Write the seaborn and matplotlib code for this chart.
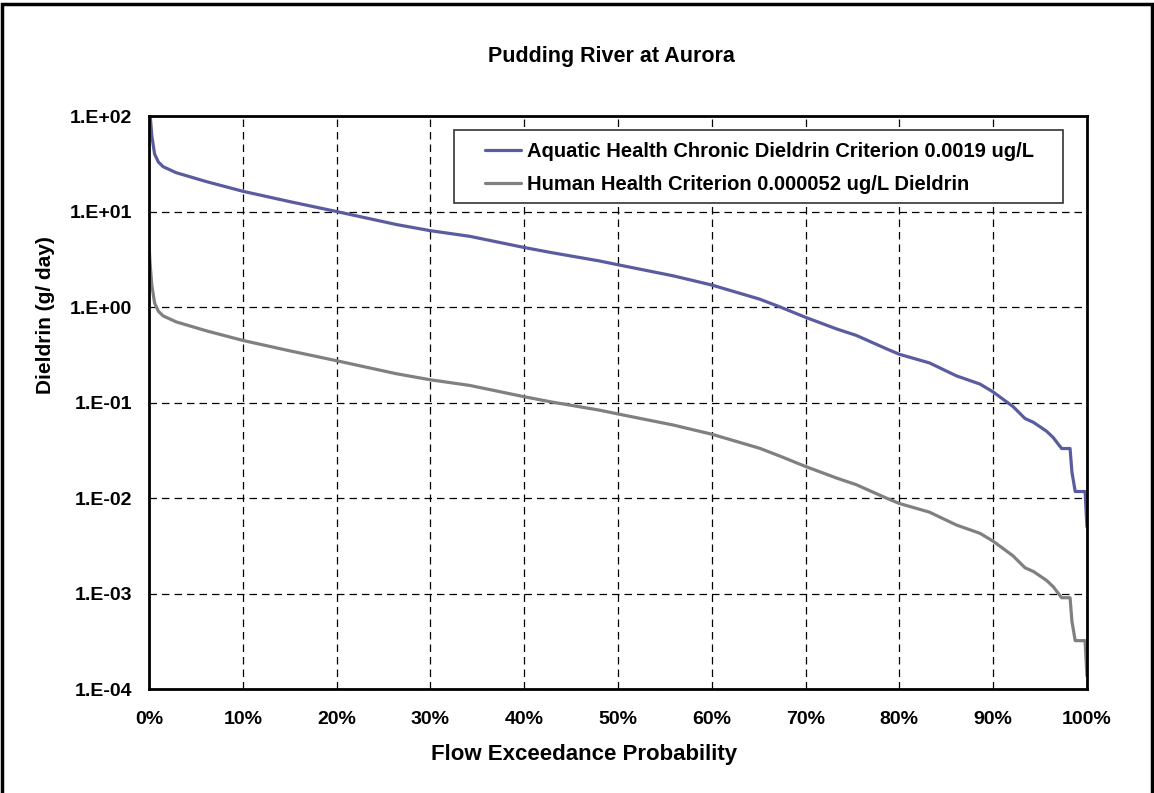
import numpy as np
import pandas as pd
import matplotlib
matplotlib.use("Agg")
import matplotlib.pyplot as plt
from matplotlib.patches import Rectangle
import seaborn as sns

# Load duration curve values (x = flow exceedance, %)
exceedance = [0.0, 0.1, 0.3, 0.6, 1.0, 1.5, 2.9, 6.1, 10, 15, 20, 26.4, 30, 34.2,
              40, 43, 48, 50, 55.9, 60, 65.1, 67.3, 70, 73.3, 75.4, 78.6, 80,
              83.2, 86.1, 88.6, 90, 92.1, 93.4, 94.3, 95.7, 96.4, 97.3, 98.2,
              98.4, 98.75, 99.8, 100]

aquatic_load = [172, 110, 62, 40, 33, 29.5, 25.5, 20.6, 16.3, 12.7, 10.0, 7.3,
                6.3, 5.5, 4.2, 3.7, 3.04, 2.77, 2.12, 1.70, 1.21, 1.0, 0.78,
                0.59, 0.505, 0.366, 0.32, 0.26, 0.19, 0.156, 0.129, 0.091,
                0.068, 0.062, 0.050, 0.043, 0.033, 0.033, 0.0186, 0.0117,
                0.0117, 0.005]

human_load = [4.71, 3.01, 1.70, 1.10, 0.904, 0.808, 0.699, 0.564, 0.447, 0.348,
              0.274, 0.200, 0.173, 0.151, 0.115, 0.101, 0.0833, 0.0759, 0.0581,
              0.0466, 0.0332, 0.0274, 0.0214, 0.0162, 0.0138, 0.0100, 0.00877,
              0.00712, 0.00521, 0.00427, 0.00353, 0.00249, 0.00186, 0.00170,
              0.00137, 0.00118, 0.000904, 0.000904, 0.000510, 0.000321,
              0.000321, 0.000137]

series_names = ["Aquatic Health Chronic Dieldrin Criterion 0.0019 ug/L",
                "Human Health Criterion 0.000052 ug/L Dieldrin"]
series_colors = ["#5A5CA0", "#808080"]

y_ticks = [1e-4, 1e-3, 1e-2, 1e-1, 1e0, 1e1, 1e2]
y_tick_labels = ["1.E-04", "1.E-03", "1.E-02", "1.E-01", "1.E+00", "1.E+01", "1.E+02"]
x_ticks = list(range(0, 101, 10))
x_tick_labels = [f"{t}%" for t in x_ticks]

sns.set_style("white")
plt.rcParams["font.family"] = ["Liberation Sans", "DejaVu Sans"]
plt.rcParams["font.weight"] = "bold"
plt.rcParams["text.color"] = "black"

fig = plt.figure(figsize=(11.54, 7.93), dpi=100)
ax = fig.add_axes([0.1291, 0.1311, 0.8128, 0.7226])

sns.lineplot(x=exceedance, y=aquatic_load, color=series_colors[0], linewidth=2.3,
             label=series_names[0], ax=ax, estimator=None, sort=False)
sns.lineplot(x=exceedance, y=human_load, color=series_colors[1], linewidth=2.3,
             label=series_names[1], ax=ax, estimator=None, sort=False)

ax.set_yscale("log")
ax.set_ylim(1e-4, 1e2)
ax.set_xlim(0, 100)
ax.set_yticks(y_ticks)
ax.set_yticklabels(y_tick_labels)
ax.minorticks_off()
ax.set_xticks(x_ticks)
ax.set_xticklabels(x_tick_labels)
ax.tick_params(axis="both", labelsize=14, direction="inout", length=6, width=1,
               color="#555555", labelcolor="black")
ax.tick_params(axis="x", pad=13)
ax.tick_params(axis="y", pad=9)

# dashed Excel-style gridlines
ax.grid(True, which="major", color="black", linestyle=(0, (6, 4)), linewidth=0.9)
for side in ax.spines.values():
    side.set_color("black")
    side.set_linewidth(2)

ax.set_xlabel("")
ax.set_ylabel("")
fig.text(0.039, 0.603, "Dieldrin (g/ day)", ha="center", va="center", rotation=90,
         fontsize=15, fontweight="bold", color="black")
fig.text(0.506, 0.049, "Flow Exceedance Probability", ha="center", va="center",
         fontsize=16, fontweight="bold", color="black")
fig.text(0.53, 0.929, "Pudding River at Aurora", ha="center", va="center",
         fontsize=15.5, fontweight="bold", color="black")

# legend box drawn separately so the wide left margin can match
ax.add_patch(Rectangle((0.3252, 0.848), 0.6492, 0.1276, transform=ax.transAxes,
                       facecolor="white", edgecolor="#333333", linewidth=1.2, zorder=4))
leg = ax.legend(loc="center left", bbox_to_anchor=(0.358, 0.909), fontsize=14.5,
                frameon=False, handlelength=1.8, handletextpad=0.3, borderpad=0,
                labelspacing=0.7, borderaxespad=0)
leg.set_zorder(5)
for t in leg.get_texts():
    t.set_fontweight("bold")
    t.set_color("black")

# outer chart border (bottom edge falls outside the image)
fig.patches.append(Rectangle((0.002, -0.05), 0.996, 1.045, transform=fig.transFigure,
                             fill=False, edgecolor="black", linewidth=2.5))

fig.savefig("out.png", dpi=100)
